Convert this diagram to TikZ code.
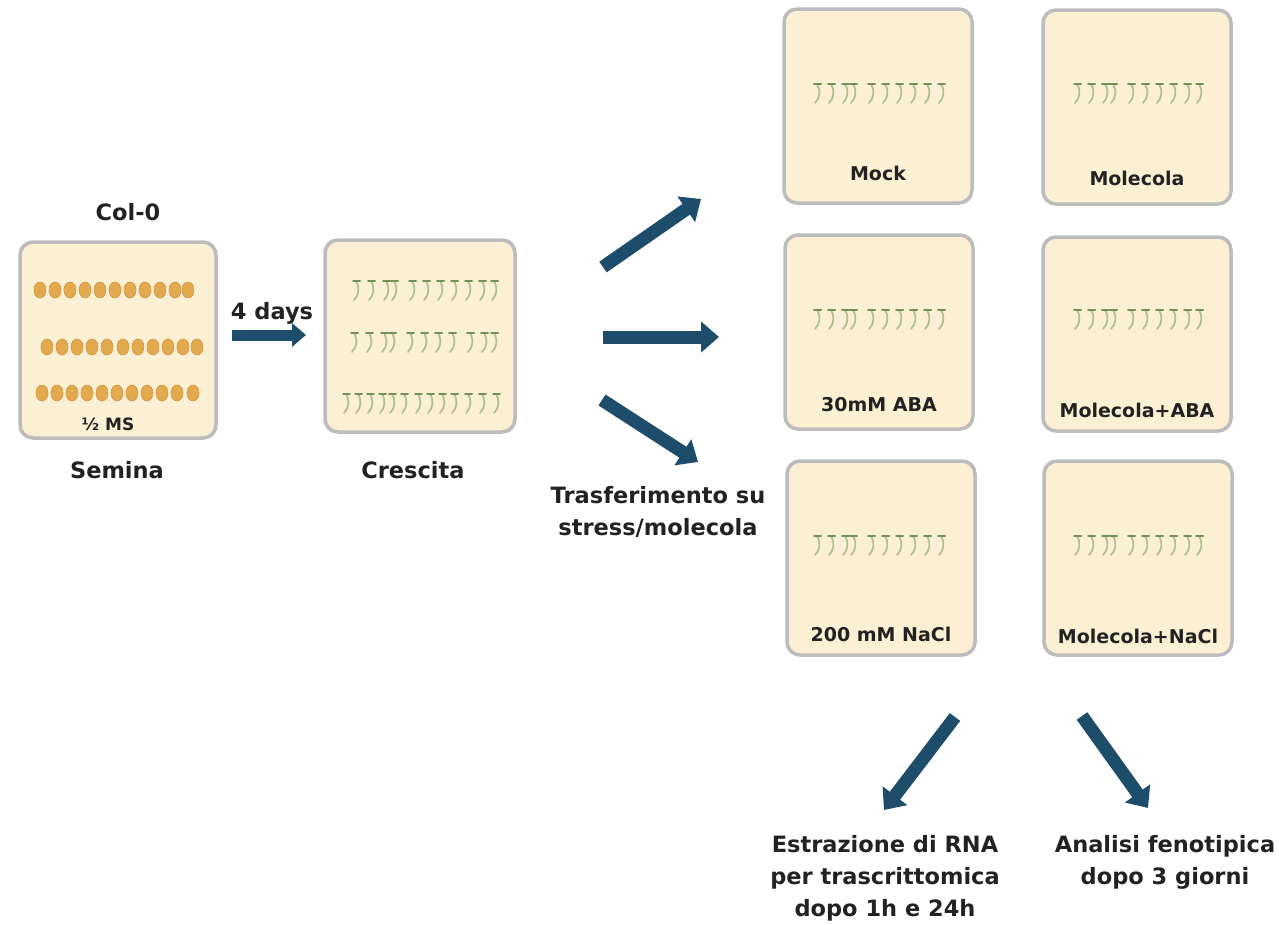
\documentclass[tikz,border=0pt]{standalone}
\usepackage{fontspec}
\setmainfont{DejaVu Sans}
\usepackage{tikz}
\usetikzlibrary{arrows.meta}

\definecolor{agar}{HTML}{FBF0D4}
\definecolor{rim}{HTML}{BCBCBC}
\definecolor{seedcol}{HTML}{E2A94F}
\definecolor{seededge}{HTML}{D09540}
\definecolor{flowblue}{HTML}{1E4D6B}
\definecolor{stemcol}{HTML}{AEBF8E}
\definecolor{leafcol}{HTML}{6F9158}
\definecolor{ink}{HTML}{222222}

\tikzset{
  plate/.style={draw=rim, line width=3.5pt, fill=agar, rounded corners=13pt,
    minimum width=188pt, minimum height=194pt, inner sep=0pt},
  flow/.style={draw=flowblue, line width=13pt,
    -{Triangle[length=18pt,width=30pt]}},
  smallflow/.style={draw=flowblue, line width=11pt,
    -{Triangle[length=14pt,width=23pt]}},
  steplabel/.style={text=ink, font=\fontsize{22.5}{32}\selectfont\bfseries,
    align=center, inner sep=0pt},
  platelabel/.style={text=ink, font=\fontsize{19}{22}\selectfont\bfseries,
    inner sep=0pt},
  sprout/.style={draw=stemcol, line width=1.7pt, line cap=round},
  leaf/.style={draw=leafcol, line width=2pt, line cap=round},
  seed/.style={fill=seedcol, draw=seededge, line width=0.6pt}
}

% a row of seedlings: #1 = y of the leaves, #2 = list of x
\newcommand{\sproutrow}[2]{%
  \foreach \sx in {#2} {
    \begin{scope}[shift={(\sx,#1)}]
      \draw[sprout] (0,0) .. controls (4,7) and (3,14) .. (-2,19);
      \draw[leaf] (-3,0) -- (4,0);
    \end{scope}}}

% a row of seeds: #1 = y, #2 = list of x
\newcommand{\seedrow}[2]{%
  \foreach \sx in {#2} {
    \draw[seed] (\sx,#1) ellipse (6 and 8);}}

\begin{document}
\begin{tikzpicture}[x=1pt, y=-1pt]
\path[use as bounding box, fill=white] (0,0) rectangle (1279,924);

% sowing
\node[steplabel] (col) at (128,212) {Col-0};
\node[plate, minimum width=196pt, minimum height=196pt] (semina) at (118,340) {};
\seedrow{290}{40,55,70,85,100,115,130,145,160,175,188}
\seedrow{347}{47,62,77,92,107,123,138,153,168,183,197}
\seedrow{393}{42,57,72,87,102,117,132,147,162,177,193}
\node[text=ink, font=\fontsize{17}{20}\selectfont\bfseries, inner sep=0pt] (ms) at (108,424) {½ MS};
\node[steplabel] (semlbl) at (117,470) {Semina};

% growth
\node[steplabel] (days) at (272,313) {4 days};
\coordinate (grow-a) at (232,335);
\coordinate (grow-b) at (306,335);
\draw[smallflow] (grow-a) -- (grow-b);

\node[plate, minimum width=190pt, minimum height=192pt] (crescita) at (420,336) {};
\sproutrow{281}{356,371,386,394,412,426,440,454,468,482,494}
\sproutrow{333}{354,369,384,392,410,424,438,452,470,484,494}
\sproutrow{394}{346,358,370,382,392,404,418,430,442,454,468,482,496}
\node[steplabel] (crelbl) at (413,470) {Crescita};

% transfer
\coordinate (up-a) at (603,267);
\coordinate (up-b) at (701,199);
\coordinate (mid-a) at (603,337);
\coordinate (mid-b) at (719,337);
\coordinate (dn-a) at (602,400);
\coordinate (dn-b) at (698,462);
\draw[flow] (up-a) -- (up-b);
\draw[flow] (mid-a) -- (mid-b);
\draw[flow] (dn-a) -- (dn-b);
\node[steplabel] (trasf) at (658,512) {Trasferimento su\\stress/molecola};

% treatments
\node[plate] (mock) at (878,106) {};
\node[plate] (mol) at (1137,107) {};
\node[plate] (aba) at (879,332) {};
\node[plate] (molaba) at (1137,334) {};
\node[plate] (nacl) at (881,558) {};
\node[plate] (molnacl) at (1138,558) {};
\foreach \py in {84,310,536} {
  \sproutrow{\py}{817,831,845,853,871,885,899,913,927,941}
  \sproutrow{\py}{1077,1091,1105,1113,1131,1145,1159,1173,1187,1199}
}
\node[platelabel] (mocklbl) at (878,173) {Mock};
\node[platelabel] (mollbl) at (1137,178) {Molecola};
\node[platelabel] (abalbl) at (879,405) {30mM ABA};
\node[platelabel] (molabalbl) at (1137,410) {Molecola+ABA};
\node[platelabel] (nacllbl) at (881,634) {200 mM NaCl};
\node[platelabel] (molnacllbl) at (1138,636) {Molecola+NaCl};

% analyses
\coordinate (rna-a) at (955,717);
\coordinate (rna-b) at (884,810);
\coordinate (fen-a) at (1082,716);
\coordinate (fen-b) at (1148,808);
\draw[flow] (rna-a) -- (rna-b);
\draw[flow] (fen-a) -- (fen-b);
\node[steplabel] (rna) at (885,878) {Estrazione di RNA\\per trascrittomica\\dopo 1h e 24h};
\node[steplabel] (fen) at (1165,862) {Analisi fenotipica\\dopo 3 giorni};
\end{tikzpicture}
\end{document}
